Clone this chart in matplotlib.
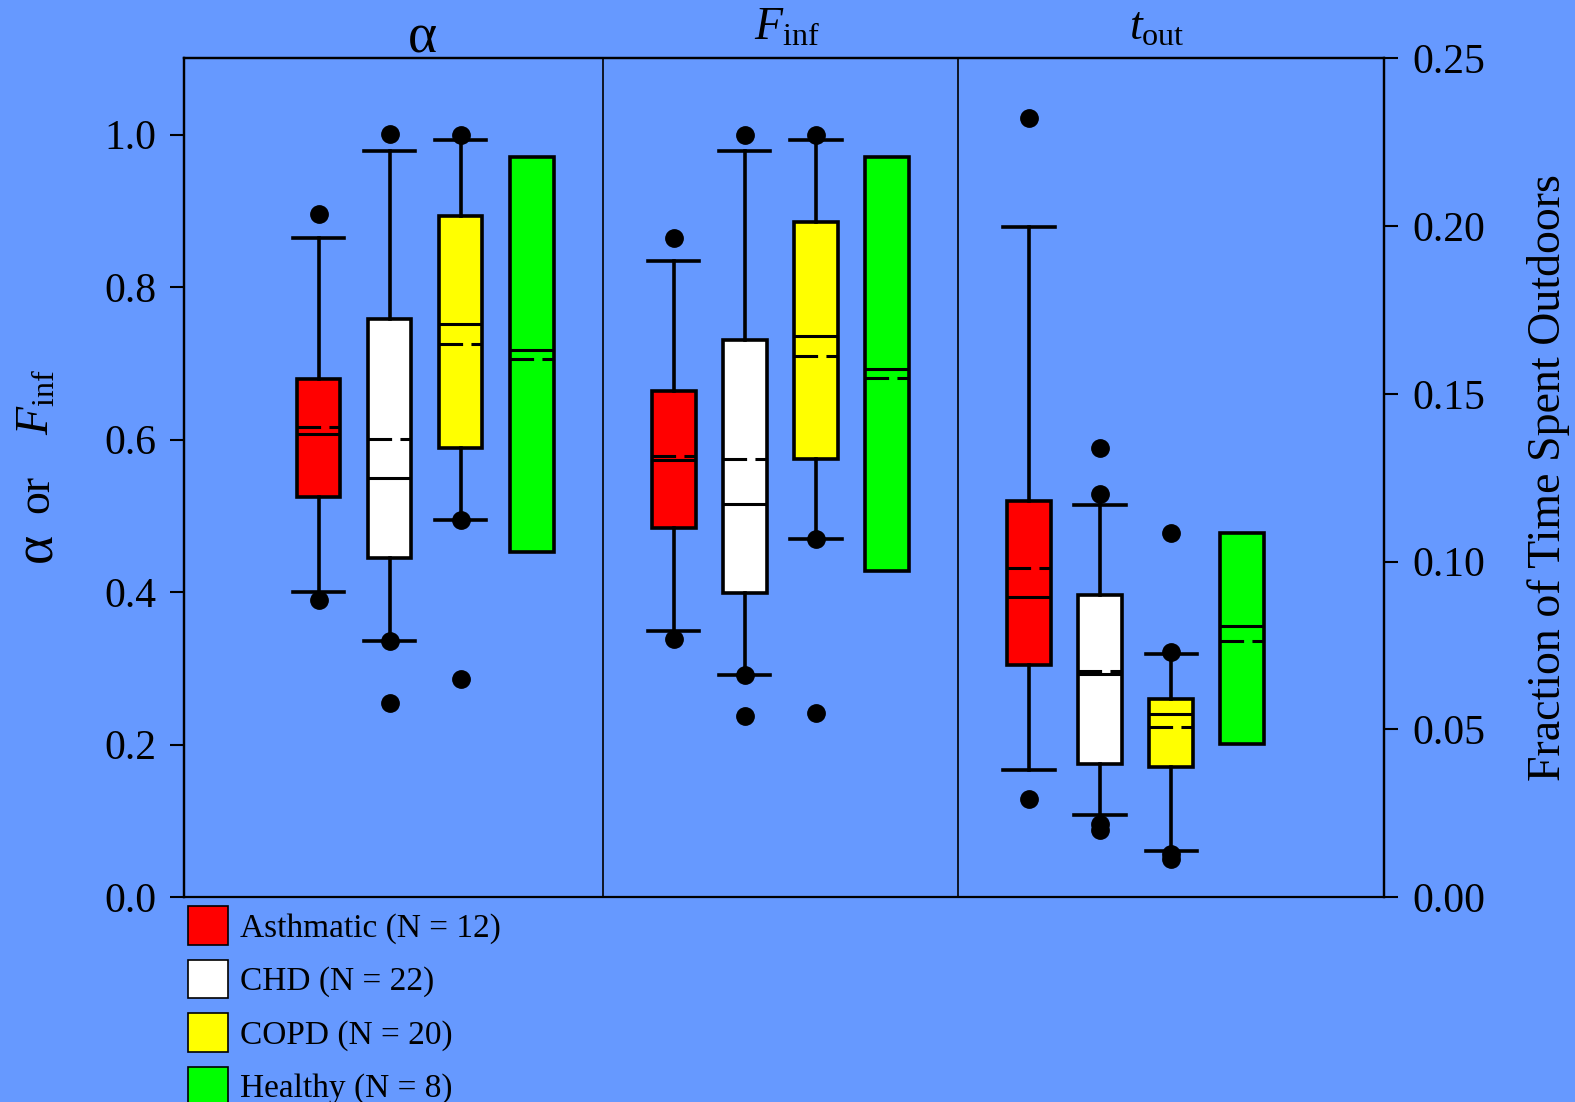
import matplotlib
matplotlib.use("Agg")
import matplotlib.pyplot as plt
from matplotlib.patches import Patch

plt.rcParams['font.family'] = ['Liberation Serif', 'DejaVu Serif']
plt.rcParams['mathtext.fontset'] = 'custom'
plt.rcParams['mathtext.rm'] = 'Liberation Serif'
plt.rcParams['mathtext.it'] = 'Liberation Serif:italic'
plt.rcParams['lines.scale_dashes'] = False

bg = '#6699FF'

groups = ['Asthmatic (N = 12)', 'CHD (N = 22)', 'COPD (N = 20)', 'Healthy (N = 8)']
colors = ['#FF0000', '#FFFFFF', '#FFFF00', '#00FF00']

# alpha
alpha_lo = [0.400, 0.336, 0.495, 0.453]
alpha_q1 = [0.524, 0.444, 0.589, 0.453]
alpha_med = [0.607, 0.549, 0.752, 0.718]
alpha_q3 = [0.680, 0.758, 0.893, 0.970]
alpha_hi = [0.864, 0.978, 0.993, 0.970]
alpha_mean = [0.617, 0.601, 0.725, 0.706]
alpha_fliers = [[0.896, 0.390], [1.001, 0.336, 0.254], [1.0, 0.495, 0.286], []]

# F_inf
finf_lo = [0.349, 0.291, 0.469, 0.428]
finf_q1 = [0.484, 0.399, 0.574, 0.428]
finf_med = [0.573, 0.515, 0.736, 0.692]
finf_q3 = [0.663, 0.731, 0.885, 0.970]
finf_hi = [0.834, 0.978, 0.993, 0.970]
finf_mean = [0.578, 0.574, 0.710, 0.681]
finf_fliers = [[0.864, 0.339], [1.0, 0.291, 0.237], [1.0, 0.469, 0.241], []]

# t_out (right axis)
tout_lo = [0.0380, 0.0246, 0.0138, 0.0455]
tout_q1 = [0.0692, 0.0398, 0.0389, 0.0455]
tout_med = [0.0895, 0.0665, 0.0545, 0.0808]
tout_q3 = [0.1180, 0.0901, 0.0590, 0.1084]
tout_hi = [0.1997, 0.1168, 0.0725, 0.1084]
tout_mean = [0.0982, 0.0674, 0.0506, 0.0763]
tout_fliers = [[0.2323, 0.0293], [0.1338, 0.1200, 0.0219, 0.0201],
               [0.1084, 0.0730, 0.0129, 0.0114], []]


def make_stats(lo, q1, med, q3, hi, mean, fliers):
    out = []
    for i in range(len(lo)):
        out.append(dict(whislo=lo[i], q1=q1[i], med=med[i], q3=q3[i],
                        whishi=hi[i], mean=mean[i], fliers=fliers[i]))
    return out


def draw(ax, stats, offset):
    pos = [offset + k for k in range(4)]
    art = ax.bxp(stats, positions=pos, widths=0.61, capwidths=0.72,
                 patch_artist=True, showmeans=True, meanline=True,
                 boxprops=dict(linewidth=2.6, edgecolor='black'),
                 whiskerprops=dict(linewidth=2.6, color='black'),
                 capprops=dict(linewidth=2.6, color='black'),
                 medianprops=dict(linewidth=2.2, color='black'),
                 meanprops=dict(linewidth=2.2, color='black', linestyle=(0, (17, 6))),
                 flierprops=dict(marker='o', markerfacecolor='black',
                                 markeredgecolor='black', markersize=12.5),
                 manage_ticks=False, zorder=3)
    for patch, c in zip(art['boxes'], colors):
        patch.set_facecolor(c)
    # healthy group has no whiskers
    for line in art['caps'][6:8] + art['whiskers'][6:8]:
        line.set_visible(False)


W, H = 1568.0, 1097.0
fig = plt.figure(figsize=(15.75, 11.02), dpi=100, facecolor=bg)
ax = fig.add_axes([183 / W, 1 - 893 / H, (1378 - 183) / W, (893 - 58) / H])
ax.set_facecolor(bg)
ax2 = ax.twinx()

draw(ax, make_stats(alpha_lo, alpha_q1, alpha_med, alpha_q3, alpha_hi, alpha_mean, alpha_fliers), 0)
draw(ax, make_stats(finf_lo, finf_q1, finf_med, finf_q3, finf_hi, finf_mean, finf_fliers), 5)
draw(ax2, make_stats(tout_lo, tout_q1, tout_med, tout_q3, tout_hi, tout_mean, tout_fliers), 10)

ax.set_xlim(-1.9, 15.0)
ax2.set_xlim(-1.9, 15.0)
ax.set_ylim(0, 1.1)
ax2.set_ylim(0, 0.25)

ax.axvline(4, color='black', lw=1.2)
ax.axvline(9, color='black', lw=1.2)

ax.set_xticks([])
ax.set_yticks([0.0, 0.2, 0.4, 0.6, 0.8, 1.0])
ax.set_yticklabels(['0.0', '0.2', '0.4', '0.6', '0.8', '1.0'])
ax2.set_yticks([0.0, 0.05, 0.10, 0.15, 0.20, 0.25])
ax2.set_yticklabels(['0.00', '0.05', '0.10', '0.15', '0.20', '0.25'])
ax.tick_params(axis='y', direction='out', length=10, width=1.5, labelsize=30, pad=10)
ax2.tick_params(axis='y', direction='out', length=10, width=1.5, labelsize=30, pad=10)
for a in (ax, ax2):
    for s in a.spines.values():
        s.set_linewidth(1.6)
ax2.spines['bottom'].set_visible(False)

# left label: bigger alpha like the original, built from rotated pieces
fig.text(37 / W, 1 - 545 / H, 'α', fontsize=40, rotation=90, ha='center', va='center')
fig.text(37 / W, 1 - 492 / H, 'or', fontsize=33, rotation=90, ha='center', va='center')
fig.text(37 / W, 1 - 400 / H, r'$F_{\mathrm{inf}}$', fontsize=33, rotation=90,
         ha='center', va='center')
ax2.set_ylabel('Fraction of Time Spent Outdoors', fontsize=33, labelpad=30)

ax.text(1.46, 1.108, 'α', fontsize=40, ha='center', va='baseline')
ax.text(6.59, 1.125, r'$F_{\mathrm{inf}}$', fontsize=33, ha='center', va='baseline')
ax.text(11.8, 1.125, r'$t_{\mathrm{out}}$', fontsize=33, ha='center', va='baseline')

handles = [Patch(facecolor=c, edgecolor='black', linewidth=1.2) for c in colors]
fig.legend(handles, groups, loc='upper left', bbox_to_anchor=(187 / W, 1 - 902 / H),
           frameon=False, fontsize=24, handlelength=1.2, handleheight=1.4,
           handletextpad=0.35, labelspacing=0.45, borderpad=0, borderaxespad=0)

fig.savefig('out.png', dpi=100, facecolor=bg)
